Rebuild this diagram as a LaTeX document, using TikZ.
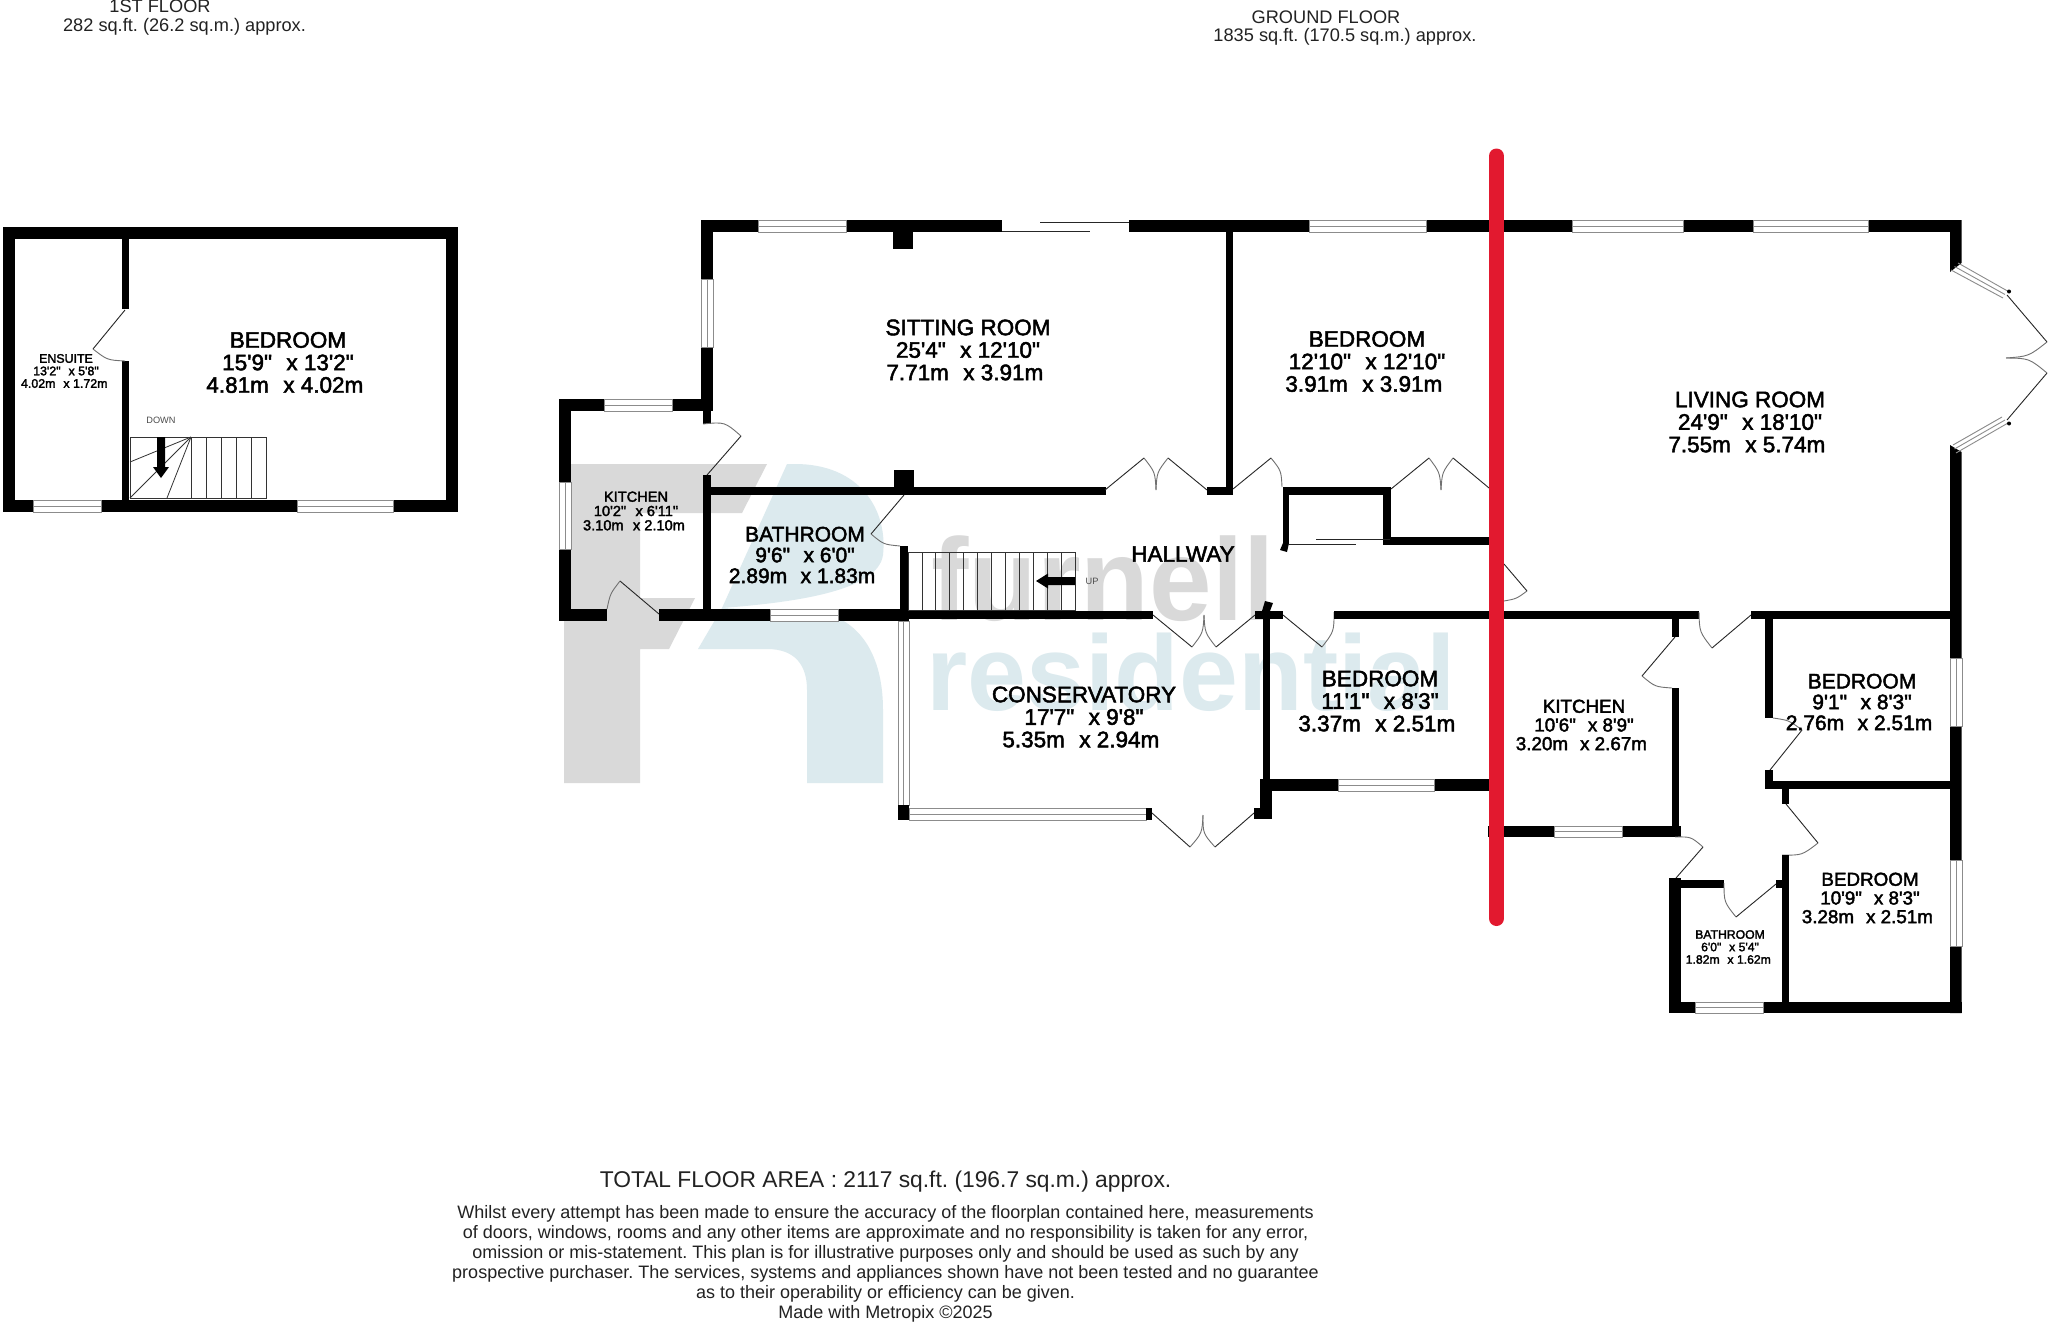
\documentclass[tikz,border=0pt]{standalone}
\usepackage{fontspec}
\usetikzlibrary{calc}
\newfontfamily\labfont[FakeBold=2.2]{Liberation Sans}
\newfontfamily\plainfont{Liberation Sans}
\newfontfamily\markfont{Liberation Sans Bold}
\frenchspacing
\def~{\nobreak\hskip.32em\relax}
\definecolor{wmgray}{HTML}{D9D9D9}
\definecolor{wmblue}{HTML}{DCEAEE}
\definecolor{redline}{HTML}{E2192F}
\definecolor{wingray}{HTML}{8C8C8C}
\definecolor{arcgray}{HTML}{707070}
\definecolor{txtgray}{HTML}{222222}
\tikzset{
  wallfill/.style={fill=black},
  winline/.style={draw=wingray,line width=0.9pt},
  doorleaf/.style={draw=black!85,line width=0.9pt},
  doorarc/.style={draw=arcgray,line width=0.9pt},
  stairline/.style={draw=black!80,line width=0.8pt},
  roomlabel/.style={inner sep=0pt,align=center,text=black},
  infotext/.style={inner sep=0pt,anchor=base,text=txtgray}
}
\newcommand\wall[4]{\fill[wallfill] (#1,#2) rectangle (#3,#4);}
\newcommand\hwin[4]{\fill[white] (#1,#2) rectangle (#3,#4);
  \draw[winline] (#1,#2) rectangle (#3,#4);
  \draw[winline] ($(#1,#2)!.5!(#1,#4)$) -- ($(#3,#2)!.5!(#3,#4)$);}
\newcommand\vwin[4]{\fill[white] (#1,#2) rectangle (#3,#4);
  \draw[winline] (#1,#2) rectangle (#3,#4);
  \draw[winline] ($(#1,#2)!.5!(#3,#2)$) -- ($(#1,#4)!.5!(#3,#4)$);}
% hinge, tip, arc end
\newcommand\door[6]{%
  \draw[doorleaf] (#1,#2) -- (#3,#4);
  \path let \p1=(#1,#2),\p2=(#3,#4),\n1={veclen(\x2-\x1,\y2-\y1)} in
    coordinate (dm) at ($(#3,#4)!.5!(#5,#6)$)
    coordinate (dp) at ($(#1,#2)!\n1!(dm)$)
    coordinate (dc) at ($2*(dp)-1*(dm)$);
  \draw[doorarc] (#3,#4) .. controls (dc) .. (#5,#6);}
\newcommand\room[8]{%
  \node[roomlabel,font=\labfont\fontsize{#4}{#5}\selectfont] (#1) at (#2,#3) {#6\\#7\hspace*{.278em}\\#8\hspace*{.278em}};}
\begin{document}
\begin{tikzpicture}[x=1pt,y=-1pt]
\useasboundingbox (0,0) rectangle (2048,1322);
\fill[white] (0,0) rectangle (2048,1322);

% watermark
\fill[wmgray] (564,464) -- (767,464) -- (742,513) -- (640,513) -- (640,598) -- (695,598) -- (669,649) -- (640,649) -- (640,783) -- (564,783) -- cycle;
\fill[wmblue] (787,464) -- (795,464) .. controls (860,464) and (888,510) .. (883,555) .. controls (878,590) and (800,602) .. (722,608) -- cycle;
\fill[wmblue] (722,608) -- (698,649) -- (767,649) .. controls (795,649) and (807,665) .. (807,690) -- (807,783) -- (883,783) -- (883,710) .. controls (883,655) and (860,620) .. (820,612) -- cycle;
\node[inner sep=0pt,anchor=base west,text=wmgray,xscale=.96] (wmtop) at (931,620) {\markfont\fontsize{117}{117}\selectfont furnell};
\node[inner sep=0pt,anchor=base west,text=wmblue,xscale=.99] (wmbot) at (926,710) {\markfont\fontsize{107}{107}\selectfont residential};

%%% FIRST FLOOR
\wall{3}{227}{458}{239}
\wall{3}{227}{15}{512}
\wall{446}{227}{458}{512}
\wall{3}{500}{458}{512}
\wall{122}{227}{129}{309}
\wall{122}{361}{129}{512}
\hwin{33}{500}{101}{512}
\hwin{297}{500}{393}{512}
\door{125}{310}{93}{349}{125}{361}
% stairs
\draw[stairline] (130,437) rectangle (266,498);
\foreach \sx in {191,206,221,236,251} {\draw[stairline] (\sx,437) -- (\sx,498);}
\draw[stairline] (191,437) -- (130,462);
\draw[stairline] (191,437) -- (130,498);
\draw[stairline] (191,437) -- (167,498);
\fill[black] (157,437) -- (165,437) -- (165,467) -- (169,467) -- (161,478) -- (153,467) -- (157,467) -- cycle;

%%% GROUND FLOOR, windows first
\wall{701}{220}{1002}{232}
\wall{1129}{220}{1961}{232}
\hwin{758}{220}{846}{232}
\hwin{1309}{220}{1426}{232}
\hwin{1572}{220}{1683}{232}
\hwin{1753}{220}{1868}{232}
\draw[doorleaf] (1002,231) -- (1090,231);
\draw[doorleaf] (1040,222) -- (1129,222);
\wall{893}{232}{913}{249}
% sitting room left
\wall{701}{220}{713}{411}
\vwin{701}{279}{713}{347}
\wall{703}{411}{711}{424}
\door{707}{475}{741}{436}{703}{424}
% kitchen
\wall{559}{399}{713}{411}
\hwin{604}{399}{672}{411}
\wall{559}{399}{571}{621}
\vwin{559}{482}{571}{549}
\wall{559}{609}{607}{621}
\wall{659}{609}{909}{621}
\hwin{770}{609}{838}{621}
\door{659}{614}{620}{581}{607}{609}
\wall{703}{475}{711}{609}
% bathroom / hall top wall
\wall{703}{487}{1106}{495}
\wall{894}{470}{914}{487}
\door{904}{495}{871}{534}{900}{546}
\wall{900}{546}{908}{621}
% stairs
\draw[stairline] (908,552) rectangle (1075,610);
\foreach \si in {1,...,11} {\draw[stairline] ({908+\si*13.9},552) -- ({908+\si*13.9},610);}
\fill[black] (1075,577) -- (1048,577) -- (1048,573.5) -- (1036,581) -- (1048,588.5) -- (1048,585) -- (1075,585) -- cycle;
% thin wall below hall
\wall{909}{611}{1153}{619}
\wall{1255}{611}{1283}{619}
\fill[wallfill] (1265,601) -- (1273,603) -- (1270,611) -- (1262,611) -- cycle;
\door{1153}{615}{1192}{647}{1204}{615}
\door{1255}{615}{1216}{647}{1204}{615}
\door{1283}{615}{1322}{647}{1334}{612}
\wall{1334}{611}{1699}{619}
\wall{1751}{611}{1950}{619}
\door{1751}{615}{1712}{648}{1699}{612}
% conservatory
\vwin{898}{621}{909}{805}
\wall{898}{805}{909}{820}
\hwin{909}{808}{1146}{820}
\wall{1146}{808}{1152}{820}
\door{1152}{813}{1190}{847}{1203}{815}
\door{1254}{813}{1215}{847}{1203}{815}
\wall{1254}{808}{1272}{819}
\wall{1260}{779}{1272}{819}
\wall{1263}{619}{1270}{779}
\wall{1260}{779}{1489}{791}
\hwin{1338}{779}{1434}{791}
% hallway upper doors
\door{1105}{490}{1144}{458}{1156}{490}
\door{1207}{490}{1168}{458}{1156}{490}
\wall{1207}{487}{1233}{495}
\wall{1226}{232}{1233}{495}
\door{1233}{489}{1271}{458}{1282}{487}
% closet
\wall{1283}{487}{1391}{495}
\wall{1283}{487}{1289}{543}
\fill[wallfill] (1283,543) -- (1289,543) -- (1287,552) -- (1280,550) -- cycle;
\wall{1383}{487}{1391}{545}
\wall{1383}{537}{1489}{545}
\draw[doorleaf] (1288,544.5) -- (1356,544.5);
\draw[doorleaf] (1316,539) -- (1390,539);
\door{1391}{489}{1429}{458}{1441}{490}
\door{1489}{488}{1453}{458}{1441}{490}
\door{1504}{564}{1527}{591}{1504}{601}
% living room right side
\fill[wallfill] (1950,220) -- (1961.5,220) -- (1961.5,263) -- (1950,272) -- cycle;
\fill[wallfill] (1950,445) -- (1961.5,452) -- (1961.5,1013) -- (1950,1013) -- cycle;
\vwin{1950}{658}{1962}{726}
\vwin{1950}{860}{1962}{946}
\draw[winline] (1958,263) -- (2007.5,291);
\draw[winline] (1951,270) -- (2003,298);
\draw[winline] (1954.5,266.5) -- (2005,294.5);
\draw[winline] (1953,445) -- (2002,417);
\draw[winline] (1956,453) -- (2008,423);
\draw[winline] (1954.5,449) -- (2005,420);
\fill[black] (2009,291.5) circle (2);
\fill[black] (2009,423.5) circle (2);
\door{2007}{295}{2047}{342}{2006}{358}
\door{2007}{420}{2047}{373}{2006}{358}
% kitchen (right)
\wall{1672}{619}{1679}{637}
\door{1675}{637}{1642}{676}{1672}{688}
\wall{1672}{688}{1679}{837}
\wall{1488}{826}{1681}{837}
\hwin{1554}{826}{1622}{837}
\door{1676}{878}{1703}{847}{1675}{837}
% bedrooms right
\wall{1765}{619}{1773}{718}
\door{1770}{770}{1802}{730}{1773}{718}
\wall{1765}{770}{1773}{789}
\wall{1765}{781}{1950}{789}
\wall{1782}{788}{1789}{804}
\door{1786}{804}{1818}{843}{1782}{855}
\wall{1782}{855}{1789}{1002}
\wall{1776}{880}{1782}{888}
% small bathroom
\wall{1669}{878}{1681}{1013}
\wall{1669}{880}{1724}{888}
\door{1776}{884}{1736}{917}{1724}{883}
\wall{1669}{1002}{1962}{1013}
\hwin{1695}{1002}{1763}{1013}

% red line
\draw[redline,line width=15pt,line cap=round] (1496.5,156) -- (1496.5,918.5);

% room labels
\room{lbedroomup}{288}{362.5}{22.5}{22.5}{BEDROOM}{15'9"~~x 13'2"}{4.81m~~x 4.02m}
\room{lensuite}{66}{371}{12.4}{12.5}{ENSUITE}{13'2"~~x 5'8"}{4.02m~~x 1.72m}
\node[inner sep=0pt,text=black!70] (ldown) at (161,420) {\plainfont\fontsize{9.2}{9.2}\selectfont DOWN};
\node[inner sep=0pt,text=black!70] (lup) at (1092,581) {\plainfont\fontsize{9.2}{9.2}\selectfont UP};
\room{lsitting}{968}{350}{22.5}{22.5}{SITTING ROOM}{25'4"~~x 12'10"}{7.71m~~x 3.91m}
\room{lbedroomone}{1367}{361.5}{22.5}{22.5}{BEDROOM}{12'10"~~x 12'10"}{3.91m~~x 3.91m}
\room{lliving}{1750}{422}{22.5}{22.5}{LIVING ROOM}{24'9"~~x 18'10"}{7.55m~~x 5.74m}
\room{lkitchenone}{636}{511}{14.6}{14.3}{KITCHEN}{10'2"~~x 6'11"}{3.10m~~x 2.10m}
\room{lbathone}{805}{555}{21}{20.8}{BATHROOM}{9'6"~~x 6'0"}{2.89m~~x 1.83m}
\node[roomlabel,font=\labfont\fontsize{22.5}{22.5}\selectfont] (lhall) at (1183,554) {HALLWAY};
\room{lcons}{1084}{717}{22.5}{22.5}{CONSERVATORY}{17'7"~~x 9'8"}{5.35m~~x 2.94m}
\room{lbedroomtwo}{1380}{701}{22.5}{22.5}{BEDROOM}{11'1"~~x 8'3"}{3.37m~~x 2.51m}
\room{lkitchentwo}{1584}{725}{18.8}{18.7}{KITCHEN}{10'6"~~x 8'9"}{3.20m~~x 2.67m}
\room{lbedroomthree}{1862}{702}{21}{20.8}{BEDROOM}{9'1"~~x 8'3"}{2.76m~~x 2.51m}
\room{lbedroomfour}{1870}{898}{18.8}{18.7}{BEDROOM}{10'9"~~x 8'3"}{3.28m~~x 2.51m}
\room{lbathtwo}{1730}{947}{12.2}{12.5}{BATHROOM}{6'0"~~x 5'4"}{1.82m~~x 1.62m}

% headings
\node[infotext] (hfirst) at (160,13) {\plainfont\fontsize{18.2}{18}\selectfont 1ST FLOOR};
\node[infotext] (hfirstb) at (184.5,32) {\plainfont\fontsize{18.2}{18}\selectfont 282 sq.ft. (26.2 sq.m.) approx.};
\node[infotext] (hground) at (1326,23.5) {\plainfont\fontsize{18.2}{18}\selectfont GROUND FLOOR};
\node[infotext] (hgroundb) at (1345,42) {\plainfont\fontsize{18.2}{18}\selectfont 1835 sq.ft. (170.5 sq.m.) approx.};
\node[infotext] (htotal) at (885.5,1187) {\plainfont\fontsize{22.8}{23}\selectfont TOTAL FLOOR AREA : 2117 sq.ft. (196.7 sq.m.) approx.};
\node[infotext] (da) at (885.5,1218) {\plainfont\fontsize{18}{20}\selectfont Whilst every attempt has been made to ensure the accuracy of the floorplan contained here, measurements};
\node[infotext] (db) at (885.5,1238) {\plainfont\fontsize{18}{20}\selectfont of doors, windows, rooms and any other items are approximate and no responsibility is taken for any error,};
\node[infotext] (dc) at (885.5,1258) {\plainfont\fontsize{18}{20}\selectfont omission or mis-statement. This plan is for illustrative purposes only and should be used as such by any};
\node[infotext] (dd) at (885.5,1278) {\plainfont\fontsize{18}{20}\selectfont prospective purchaser. The services, systems and appliances shown have not been tested and no guarantee};
\node[infotext] (de) at (885.5,1298) {\plainfont\fontsize{18}{20}\selectfont as to their operability or efficiency can be given.};
\node[infotext] (df) at (885.5,1318) {\plainfont\fontsize{18}{20}\selectfont Made with Metropix ©2025};
\end{tikzpicture}
\end{document}
